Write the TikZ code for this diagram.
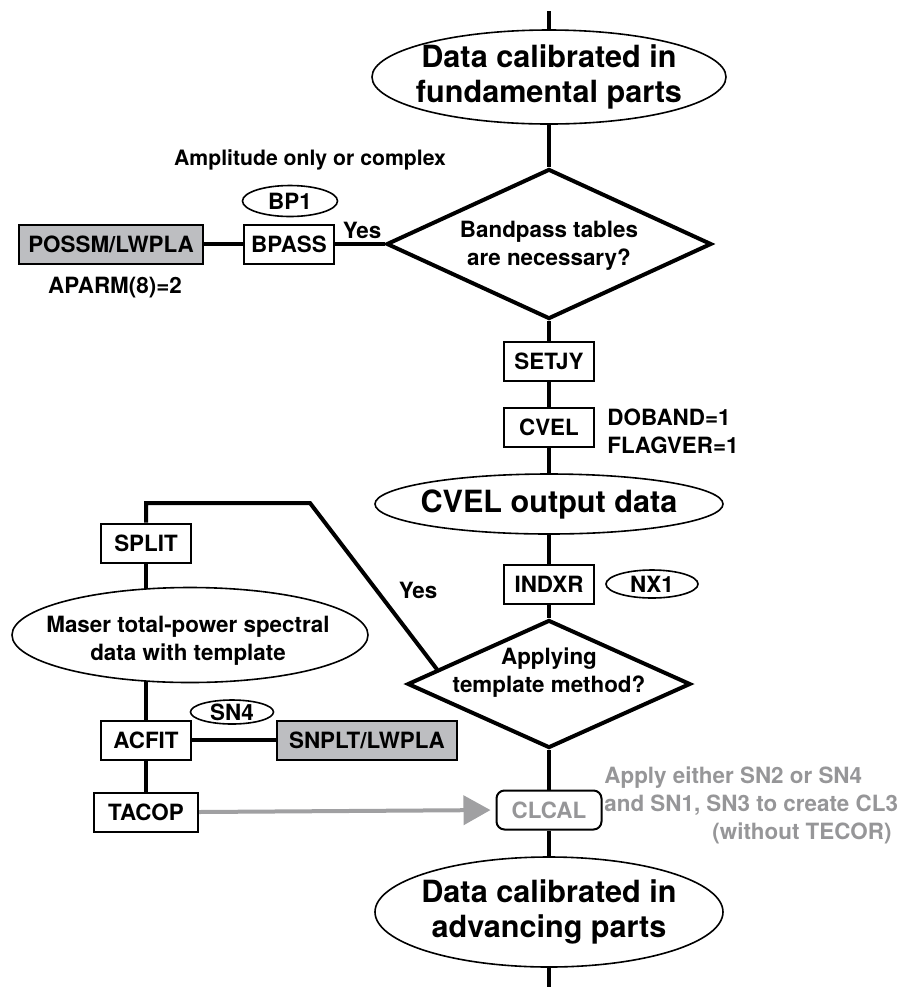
\documentclass[tikz,border=0pt]{standalone}
\usepackage{fontspec}
\setmainfont{TeX Gyre Heros}
\usetikzlibrary{shapes.geometric,arrows.meta,backgrounds,calc}

\definecolor{toolgray}{RGB}{189,190,193}
\definecolor{notegray}{RGB}{150,150,152}

\begin{document}
\begin{tikzpicture}[x=0.5pt, y=-0.5pt,
    box/.style={draw, line width=1pt, fill=white, minimum width=45pt, minimum height=19.5pt, inner sep=0pt, font=\fontsize{11.2}{14}\selectfont\bfseries},
    graybox/.style={box, fill=toolgray},
    oval/.style={draw, ellipse, line width=0.8pt, fill=white, inner sep=0pt},
    decision/.style={draw, diamond, line width=2pt, fill=white, inner sep=0pt},
    bigtxt/.style={align=center, inner sep=0pt, font=\fontsize{15.3}{17.5}\selectfont\bfseries},
    smalltxt/.style={align=center, inner sep=0pt, font=\fontsize{11.2}{14}\selectfont\bfseries},
    flow/.style={line width=2pt},
    notearrow/.style={line width=2pt, draw=notegray!90, -{Triangle[length=13.5pt, width=14.5pt]}, shorten >=2.5pt}]
  \def\px{0.5pt}
  \useasboundingbox (0,0) rectangle (917,987);

  % main column
  \coordinate (top) at (549,11);
  \coordinate (bottom) at (549,987);
  \node[oval, minimum width=354*\px, minimum height=94*\px] (calib1) at (549,77) {};
  \node[bigtxt] (calib1txt) at (calib1) {Data calibrated in\\fundamental parts};
  \node[decision, minimum width=325*\px, minimum height=150*\px] (bpq) at (549,244) {};
  \node[smalltxt] (bpqtxt) at (549,246) {Bandpass tables\\are necessary?};
  \node[box] (setjy) at (549,361) {SETJY};
  \node[box] (cvel) at (549,427) {CVEL};
  \node[smalltxt, align=left, anchor=west] (cvelpar) at (607,431) {DOBAND=1\\FLAGVER=1};
  \node[oval, minimum width=348*\px, minimum height=60*\px] (cvelout) at (549,504) {};
  \node[bigtxt] (cveltxt) at (cvelout) {CVEL output data};
  \node[box] (indxr) at (549,584) {INDXR};
  \node[oval, minimum width=92*\px, minimum height=28*\px, smalltxt] (nx1) at (652,584) {NX1};
  \node[decision, minimum width=283*\px, minimum height=128*\px] (apply) at (549,684) {};
  \node[smalltxt] (applytxt) at (549,673) {Applying\\template method?};
  \node[box, minimum width=52.5pt, rounded corners=4pt, text=notegray] (clcal) at (549,810) {CLCAL};
  \node[smalltxt, align=left, anchor=west, text=notegray] (clcalnote) at (604,805) {Apply either SN2 or SN4\\and SN1, SN3 to create CL3\\\hspace*{54pt}(without TECOR)};
  \node[oval, minimum width=348*\px, minimum height=110*\px] (calib2) at (549,912) {};
  \node[bigtxt] (calib2txt) at (calib2) {Data calibrated in\\advancing parts};

  % bandpass branch
  \node[smalltxt, font=\fontsize{10.6}{14}\selectfont\bfseries] (amptxt) at (310,160) {Amplitude only or complex};
  \node[oval, minimum width=95*\px, minimum height=31*\px, smalltxt] (bp1) at (290,201) {BP1};
  \node[box] (bpass) at (289,244) {BPASS};
  \node[graybox, minimum width=92pt] (possm) at (111,244) {POSSM/LWPLA};
  \node[smalltxt] (yes1) at (362,230) {Yes};
  \node[smalltxt] (aparm) at (115,288) {APARM(8)=2};

  % template branch
  \node[box] (split) at (146,543) {SPLIT};
  \node[smalltxt] (yes2) at (418,590) {Yes};
  \node[oval, minimum width=356*\px, minimum height=95*\px] (maser) at (190,635) {};
  \node[smalltxt] (masertxt) at (188,641) {Maser total-power spectral\\data with template};
  \node[oval, minimum width=83*\px, minimum height=24*\px, smalltxt] (sn4) at (232,712) {SN4};
  \node[box] (acfit) at (146,740) {ACFIT};
  \node[graybox, minimum width=90pt] (snplt) at (367,740) {SNPLT/LWPLA};
  \node[box, minimum width=52pt] (tacop) at (146,812) {TACOP};

  \coordinate (yesfoot) at ($(apply.west)!0.22!(apply.north)$);
  \coordinate (yesbend) at (310,503);

  \begin{scope}[on background layer]
    \draw[flow] (top) -- (calib1) -- (bpq) -- (setjy) -- (cvel) -- (cvelout) -- (indxr) -- (apply) -- (clcal) -- (calib2) -- (bottom);
    \draw[flow] (possm) -- (bpass) -- (bpq);
    \draw[flow] (yesfoot) -- (yesbend) -| (split);
    \draw[flow] (split) -- (split |- maser);
    \draw[flow] (acfit |- maser) -- (acfit) -- (tacop);
    \draw[flow] (acfit) -- (snplt);
    \draw[notearrow] (tacop.east) -- (clcal.west);
  \end{scope}
\end{tikzpicture}
\end{document}
